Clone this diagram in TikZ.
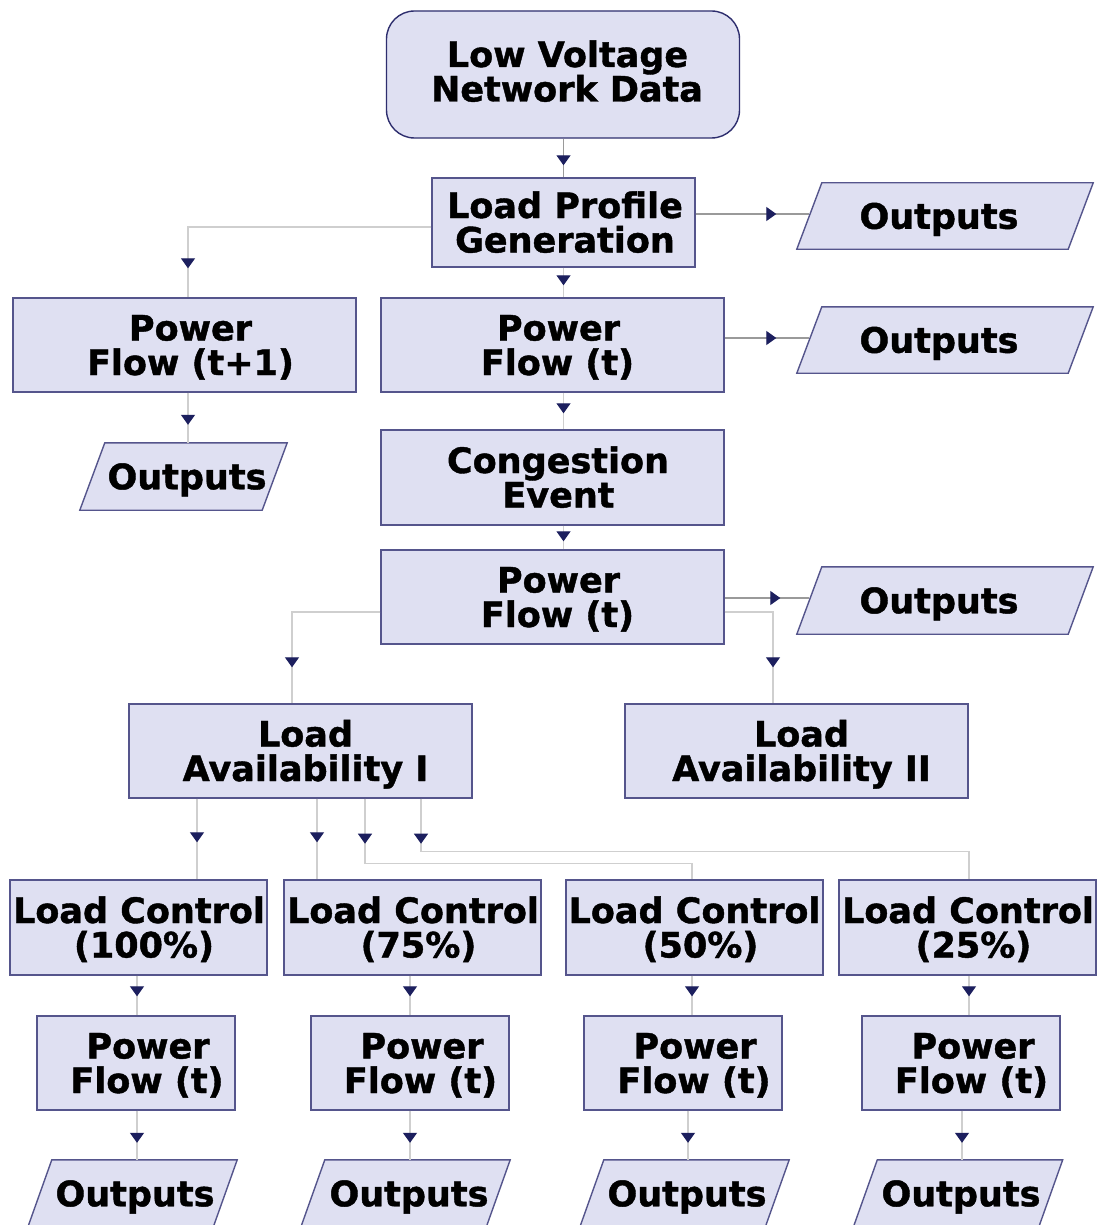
\documentclass[tikz,border=0pt]{standalone}
\usepackage{fontspec}
\setmainfont{DejaVu Sans}[BoldFeatures={FakeBold=1.2}]
\usetikzlibrary{arrows.meta,decorations.markings,backgrounds}

\definecolor{boxfill}{HTML}{DFE0F2}
\definecolor{boxline}{HTML}{55558C}
\definecolor{topline}{HTML}{2E2E6E}
\definecolor{tipcol}{HTML}{1C1F5E}
\definecolor{dkgray}{HTML}{9A9A9A}
\definecolor{ltgray}{HTML}{CFCFCF}

% one text line: optional horizontal offset (pt), fixed height and depth
\newcommand\txtline[2][0]{\hspace*{#1pt}\hspace*{#1pt}\rule[-1pt]{0pt}{27.5pt}\smash{#2}}

% parallelogram drawn round an invisible output node; #2 = half of the slant
\newcommand\paraout[2]{%
  \filldraw[draw=boxline, fill=boxfill, line width=1.4pt, line join=miter]
    ([xshift=#2pt]#1.north west) -- ([xshift=#2pt]#1.north east) --
    ([xshift=-#2pt]#1.south east) -- ([xshift=-#2pt]#1.south west) -- cycle;}

\begin{document}
\begin{tikzpicture}[x=1pt, y=-1pt,
  box/.style 2 args={draw=boxline, fill=boxfill, line width=1.4pt, inner sep=0pt,
    minimum width=#1, minimum height=#2},
  outnode/.style 2 args={inner sep=0pt, minimum width=#1, minimum height=#2},
  txt/.style={font=\fontsize{35}{34.5}\selectfont\bfseries, align=center, text=black, inner sep=0pt},
  dk/.style={draw=dkgray, line width=1.2pt},
  lt/.style={draw=ltgray, line width=1.2pt},
  tipat/.style={postaction={decorate}, decoration={markings,
    mark=at position #1 with {\arrow{Triangle[length=10pt,width=14pt,color=tipcol,fill=tipcol]}}}}
]
\useasboundingbox (0,0) rectangle (1098,1225);

% ---- upper chain ----
\node[box={353pt}{127pt}, draw=topline, rounded corners=28pt,
  label={[txt, yshift=3pt]center:{\txtline[4.5]{Low Voltage}\\\txtline[4]{Network Data}}}]
  (lvnd) at (563,74.5) {};
\node[box={263pt}{89pt},
  label={[txt]center:{\txtline[1.5]{Load Profile}\\\txtline[1.5]{Generation}}}]
  (lpg) at (563.5,222.5) {};
\node[outnode={271pt}{66pt}, label={[txt]center:{\txtline[-6]{Outputs}}}] (out1) at (945,216) {};

\node[box={343pt}{94pt},
  label={[txt]center:{\txtline[6]{Power}\\\txtline[6]{Flow (t+1)}}}]
  (pft1) at (184.5,345) {};
\node[box={343pt}{94pt},
  label={[txt]center:{\txtline[6]{Power}\\\txtline[5]{Flow (t)}}}]
  (pf1) at (552.5,345) {};
\node[outnode={271pt}{66pt}, label={[txt]center:{\txtline[-6]{Outputs}}}] (out2) at (945,340) {};
\node[outnode={182pt}{67pt}, label={[txt]center:{\txtline[3.5]{Outputs}}}] (outt1) at (183.5,476.5) {};

\node[box={343pt}{95pt},
  label={[txt]center:{\txtline[5.5]{Congestion}\\\txtline[6]{Event}}}]
  (ce) at (552.5,477.5) {};
\node[box={343pt}{94pt},
  label={[txt]center:{\txtline[6]{Power}\\\txtline[5]{Flow (t)}}}]
  (pf2) at (552.5,597) {};
\node[outnode={271pt}{67pt}, label={[txt]center:{\txtline[-6]{Outputs}}}] (out3) at (945,600.5) {};

% ---- load availability ----
\node[box={343pt}{94pt},
  label={[txt]center:{\txtline[5]{Load}\\\txtline[5]{Availability I}}}]
  (la1) at (300.5,751) {};
\node[box={343pt}{94pt},
  label={[txt]center:{\txtline[5]{Load}\\\txtline[5]{Availability II}}}]
  (la2) at (796.5,751) {};

% ---- load control variants ----
\node[box={257pt}{95pt},
  label={[txt]center:{\txtline[0.5]{Load Control}\\\txtline[5.5]{(100\%)}}}]
  (lc100) at (138.5,927.5) {};
\node[box={257pt}{95pt},
  label={[txt]center:{\txtline[0.5]{Load Control}\\\txtline[6]{(75\%)}}}]
  (lc75) at (412.5,927.5) {};
\node[box={257pt}{95pt},
  label={[txt]center:{\txtline[0]{Load Control}\\\txtline[6]{(50\%)}}}]
  (lc50) at (694.5,927.5) {};
\node[box={257pt}{95pt},
  label={[txt]center:{\txtline[0.5]{Load Control}\\\txtline[6]{(25\%)}}}]
  (lc25) at (967.5,927.5) {};

\node[box={198pt}{94pt},
  label={[txt]center:{\txtline[12]{Power}\\\txtline[11]{Flow (t)}}}]
  (pfa) at (136,1063) {};
\node[box={198pt}{94pt},
  label={[txt]center:{\txtline[12]{Power}\\\txtline[10.5]{Flow (t)}}}]
  (pfb) at (410,1063) {};
\node[box={198pt}{94pt},
  label={[txt]center:{\txtline[12]{Power}\\\txtline[11]{Flow (t)}}}]
  (pfc) at (683,1063) {};
\node[box={198pt}{94pt},
  label={[txt]center:{\txtline[12]{Power}\\\txtline[10.5]{Flow (t)}}}]
  (pfd) at (961,1063) {};

\node[outnode={185pt}{67pt}, label={[txt]center:{\txtline[2.5]{Outputs}}}] (oa) at (132.5,1193.5) {};
\node[outnode={185pt}{67pt}, label={[txt]center:{\txtline[3.5]{Outputs}}}] (ob) at (405.5,1193.5) {};
\node[outnode={185pt}{67pt}, label={[txt]center:{\txtline[2.5]{Outputs}}}] (oc) at (684.5,1193.5) {};
\node[outnode={185pt}{67pt}, label={[txt]center:{\txtline[3]{Outputs}}}] (od) at (958,1193.5) {};

% ---- output parallelograms and page background ----
\begin{pgfonlayer}{background}
  \fill[white] (0,0) rectangle (1098,1225);
  \paraout{out1}{12.5}
  \paraout{out2}{12.5}
  \paraout{out3}{12.5}
  \paraout{outt1}{12.5}
  \paraout{oa}{12}
  \paraout{ob}{12}
  \paraout{oc}{12}
  \paraout{od}{12}
\end{pgfonlayer}

% ---- connectors ----
\draw[dk, tipat=-12pt] (lvnd.south -| lpg.north) -- (lpg.north);
\draw[dk, tipat=-33pt] ([yshift=8.5pt]lpg.east) -- ([yshift=8.5pt]lpg.east -| out1.west);
\draw[lt, tipat=-29pt] ([yshift=-4.5pt]lpg.west) -| ([xshift=3.5pt]pft1.north);
\draw[lt, tipat=-12pt] (lpg.south) -- (lpg.south |- pf1.north);
\draw[dk, tipat=-33pt] ([yshift=7pt]pf1.east) -- ([yshift=7pt]pf1.east -| out2.west);
\draw[lt, tipat=-18pt] ([xshift=3.5pt]pft1.south) -- ([xshift=3.5pt]pft1.south |- outt1.north);
\draw[lt, tipat=-16pt] (lpg.south |- pf1.south) -- (lpg.south |- ce.north);
\draw[lt, tipat=-8pt] (lpg.south |- ce.south) -- (lpg.south |- pf2.north);
\draw[dk, tipat=-29pt] ([yshift=-1pt]pf2.east) -- ([yshift=-1pt]pf2.east -| out3.west);
\draw[lt, tipat=-36pt] ([yshift=-15pt]pf2.west) -| ([xshift=-8.5pt]la1.north);
\draw[lt, tipat=-36pt] ([yshift=-15pt]pf2.east) -| ([xshift=-23.5pt]la2.north);

\draw[lt, tipat=-37pt] ([xshift=-103.5pt]la1.south) -- ([xshift=-103.5pt]la1.south |- lc100.north);
\draw[lt, tipat=-37pt] ([xshift=16.5pt]la1.south) -- ([xshift=16.5pt]la1.south |- lc75.north);
\draw[lt, tipat=45pt] ([xshift=64.5pt]la1.south) |- ([xshift=-2.5pt,yshift=16pt]lc50.north) -- ([xshift=-2.5pt]lc50.north);
\draw[lt, tipat=45pt] ([xshift=120.5pt]la1.south) |- ([xshift=1.5pt,yshift=28pt]lc25.north) -- ([xshift=1.5pt]lc25.north);

\draw[lt, tipat=-19pt] ([xshift=-1.5pt]lc100.south) -- ([xshift=-1.5pt]lc100.south |- pfa.north);
\draw[lt, tipat=-19pt] ([xshift=-2.5pt]lc75.south) -- ([xshift=-2.5pt]lc75.south |- pfb.north);
\draw[lt, tipat=-19pt] ([xshift=-2.5pt]lc50.south) -- ([xshift=-2.5pt]lc50.south |- pfc.north);
\draw[lt, tipat=-19pt] ([xshift=1.5pt]lc25.south) -- ([xshift=1.5pt]lc25.south |- pfd.north);

\draw[lt, tipat=-17pt] ([xshift=1pt]pfa.south) -- ([xshift=1pt]pfa.south |- oa.north);
\draw[lt, tipat=-17pt] (pfb.south) -- (pfb.south |- ob.north);
\draw[lt, tipat=-17pt] ([xshift=5pt]pfc.south) -- ([xshift=5pt]pfc.south |- oc.north);
\draw[lt, tipat=-17pt] ([xshift=1pt]pfd.south) -- ([xshift=1pt]pfd.south |- od.north);
\end{tikzpicture}
\end{document}
